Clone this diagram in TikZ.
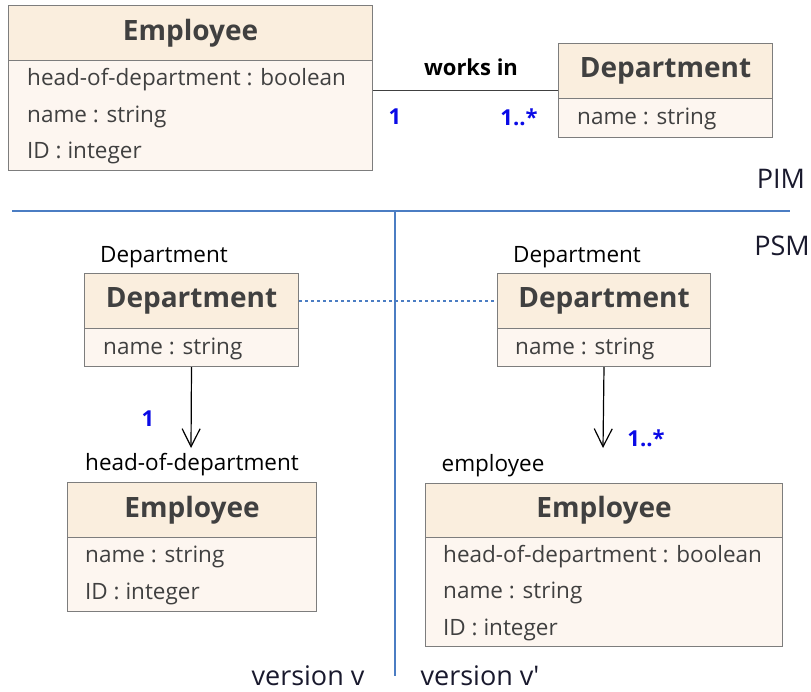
\documentclass[tikz,border=0pt]{standalone}
\usepackage{fontspec}
\setmainfont{Open Sans}
\usetikzlibrary{arrows.meta}
\definecolor{hdrfill}{RGB}{250,238,222}
\definecolor{bodyfill}{RGB}{253,246,240}
\definecolor{boxline}{RGB}{125,125,125}
\definecolor{txt}{RGB}{64,64,64}
\definecolor{mult}{RGB}{10,10,230}
\definecolor{sep}{RGB}{75,125,195}
\definecolor{lbl}{RGB}{25,25,45}
\begin{document}
\begin{tikzpicture}[x=1pt,y=-1pt,
  hdr/.style={draw=boxline,line width=1pt,fill=hdrfill,anchor=north west,inner sep=0pt,
     font=\fontsize{28}{32}\selectfont\bfseries,text=txt},
  body/.style={draw=boxline,line width=1pt,fill=bodyfill,anchor=north west,inner sep=0pt},
  attr/.style={anchor=west,inner sep=0pt,font=\fontsize{22.5}{26}\selectfont,text=txt},
  role/.style={inner sep=0pt,font=\fontsize{22.5}{26}\selectfont,text=black},
  multi/.style={inner sep=0pt,font=\fontsize{22}{26}\selectfont\bfseries,text=mult},
  sect/.style={inner sep=0pt,font=\fontsize{27}{30}\selectfont,text=lbl},
  assoc/.style={draw=black!75,line width=1.4pt},
  nav/.style={draw=black,line width=1.2pt,-{Straight Barb[length=18pt,width=18pt,line width=1.2pt]}},
  sepline/.style={draw=sep,line width=1.3pt}
]
\useasboundingbox (0,0) rectangle (811,691);

% PIM Employee
\node[body,minimum width=364pt,minimum height=110pt] (e1b) at (8,60) {};
\node[hdr,minimum width=364pt,minimum height=55pt] (e1h) at (8,5) {Employee};
\node[attr] (e1a1) at (27,80) {head-of-department : boolean};
\node[attr] (e1a2) at (27,117) {name : string};
\node[attr] (e1a3) at (27,153) {ID : integer};

% PIM Department
\node[body,minimum width=214pt,minimum height=39pt] (d1b) at (558,98) {};
\node[hdr,minimum width=214pt,minimum height=55pt] (d1h) at (558,43) {Department};
\node[attr] (d1a1) at (577,119) {name : string};

% association
\draw[assoc] ([yshift=25pt]e1b.east) -- ([yshift=25pt]e1b.east -| d1h.west);
\node[inner sep=0pt,font=\fontsize{22}{26}\selectfont\bfseries] (wi) at (471,67) {works in};
\node[multi] (m1) at (395,117) {1};
\node[multi] (m2) at (519,117) {1..*};

% section labels
\node[sect] (pim) at (781,179) {PIM};
\node[sect] (psm) at (782,246) {PSM};
\node[sect,anchor=base] (vv) at (308,685) {version v};
\node[sect,anchor=base] (vv2) at (480,685) {version v\textquotesingle};

% separator lines
\coordinate (hl) at (12,211);
\coordinate (hr) at (790,211);
\coordinate (vt) at (395,211);
\coordinate (vb) at (395,676);
\draw[sepline] (hl) -- (hr);
\draw[sepline] (vt) -- (vb);

% PSM left Department
\node[body,minimum width=214pt,minimum height=38pt] (d2b) at (84,328) {};
\node[hdr,minimum width=214pt,minimum height=55pt] (d2h) at (84,273) {Department};
\node[attr] (d2a1) at (103,349) {name : string};
\node[role] (d2r) at (164,257) {Department};

% PSM right Department
\node[body,minimum width=213pt,minimum height=38pt] (d3b) at (497,328) {};
\node[hdr,minimum width=213pt,minimum height=55pt] (d3h) at (497,273) {Department};
\node[attr] (d3a1) at (515,349) {name : string};
\node[role] (d3r) at (577,257) {Department};

% dotted link
\draw[draw=sep,line width=2.6pt,dash pattern=on 3pt off 3pt] (d2h.east) -- (d3h.west);

% PSM left Employee
\node[body,minimum width=249pt,minimum height=74pt] (e2b) at (67,537) {};
\node[hdr,minimum width=249pt,minimum height=55pt] (e2h) at (67,482) {Employee};
\node[attr] (e2a1) at (85,557) {name : string};
\node[attr] (e2a2) at (85,594) {ID : integer};
\node[role] (e2r) at (192,465) {head-of-department};

% PSM right Employee
\node[body,minimum width=357pt,minimum height=109pt] (e3b) at (425,537) {};
\node[hdr,minimum width=357pt,minimum height=54pt] (e3h) at (425,483) {Employee};
\node[attr] (e3a1) at (443,557) {head-of-department : boolean};
\node[attr] (e3a2) at (443,593) {name : string};
\node[attr] (e3a3) at (443,630) {ID : integer};
\node[role] (e3r) at (493,466) {employee};

% navigable associations
\coordinate (t2) at (191,448);
\coordinate (t3) at (603,448);
\draw[nav] (d2b.south) -- (t2);
\draw[nav] (d3b.south) -- (t3);
\node[multi] (m3) at (148,419) {1};
\node[multi] (m4) at (646,438) {1..*};
\end{tikzpicture}
\end{document}
